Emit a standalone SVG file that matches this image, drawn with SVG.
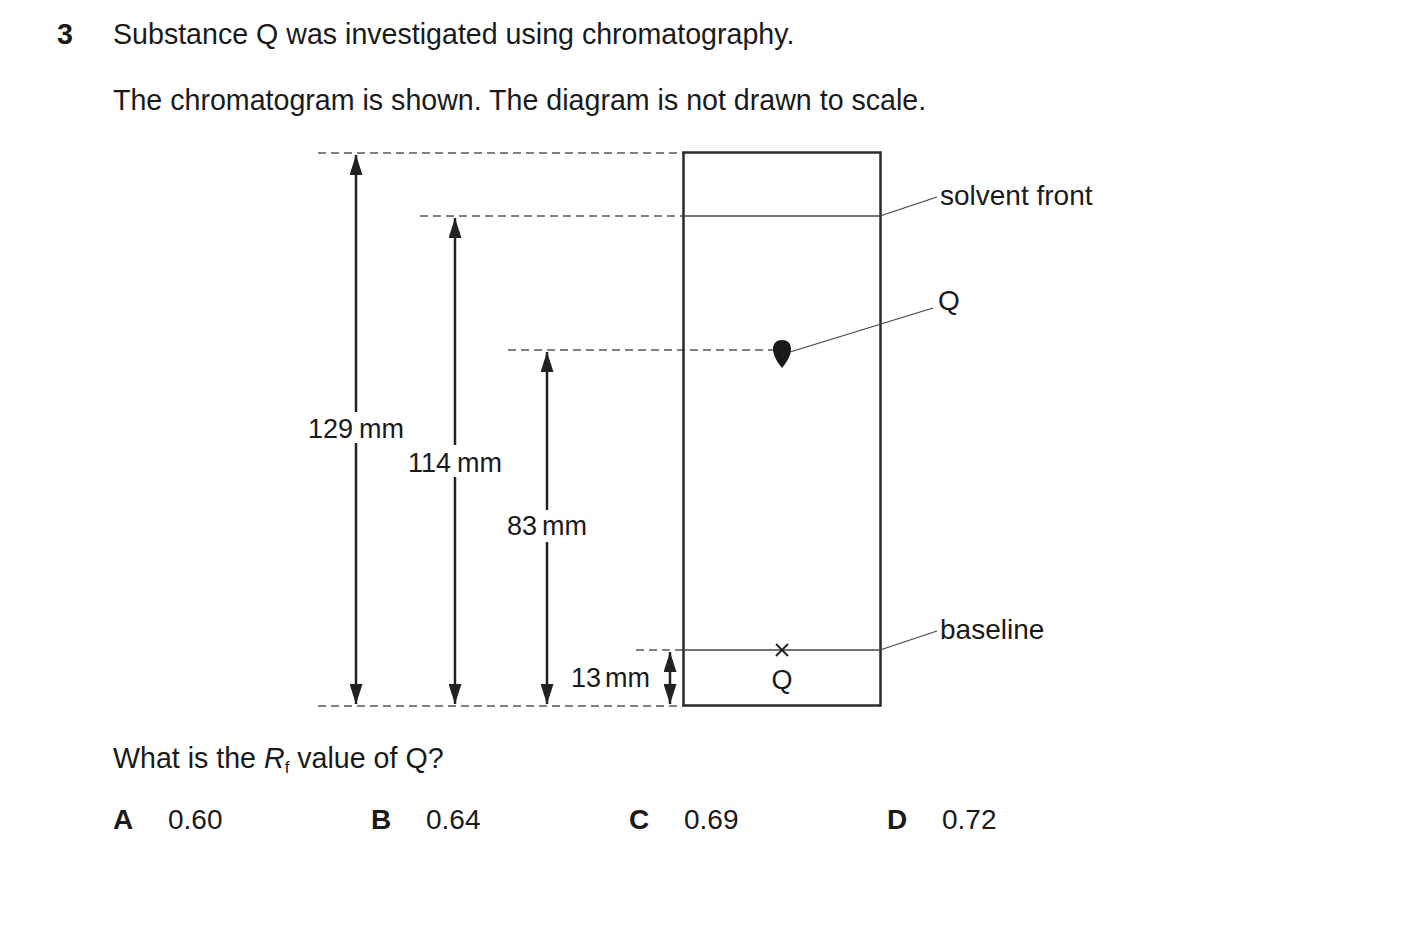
<svg xmlns="http://www.w3.org/2000/svg" width="1403" height="928" viewBox="0 0 1403 928">
<defs>
<style>
text{font-family:"Liberation Sans",Arial,sans-serif;font-size:27px;fill:#1a1a1a}
.b{font-weight:bold}
.t{font-size:28px}
.h{font-size:28.6px}
.dash{stroke:#555;stroke-width:1.5;stroke-dasharray:8 5;fill:none}
.thin{stroke:#444;stroke-width:1.3;fill:none}
.dim{stroke:#222;stroke-width:2.5;fill:none}
.ah{fill:#222}
</style>
<marker id="arr" viewBox="0 0 20 13" refX="20" refY="6.5" markerWidth="20" markerHeight="13" markerUnits="userSpaceOnUse" orient="auto-start-reverse">
<path d="M0,0 L20,6.5 L0,13 Z" class="ah"/>
</marker>
</defs>
<rect width="1403" height="928" fill="#fff"/>
<g id="question">
<text x="57" y="44" class="b h">3</text>
<text x="113" y="44" class="h">Substance Q was investigated using chromatography.</text>
<text x="113" y="110" class="h">The chromatogram is shown. The diagram is not drawn to scale.</text>
</g>
<g id="guides">
<line x1="318" y1="153" x2="683" y2="153" class="dash"/>
<line x1="420" y1="216" x2="683" y2="216" class="dash"/>
<line x1="508" y1="350" x2="775" y2="350" class="dash"/>
<line x1="636" y1="650" x2="683" y2="650" class="dash"/>
<line x1="318" y1="706" x2="683" y2="706" class="dash"/>
</g>
<g id="chromatogram">
<rect x="683.5" y="152.5" width="197" height="553" fill="none" stroke="#2a2a2a" stroke-width="2.5"/>
<line x1="683" y1="216" x2="880" y2="216" class="thin"/>
<line x1="683" y1="650" x2="880" y2="650" class="thin"/>
<path d="M782,368 C778,363 773,356 773,349 C773,343 777,340 782,340 C787,340 791,343 791,349 C791,356 786,363 782,368 Z" fill="#1a1a1a"/>
<path d="M776,644 L788,656 M788,644 L776,656" stroke="#222" stroke-width="1.8"/>
<text x="782" y="689" text-anchor="middle">Q</text>
</g>
<g id="connectors">
<line x1="356" y1="155" x2="356" y2="412" class="dim" marker-start="url(#arr)"/>
<line x1="356" y1="443" x2="356" y2="704" class="dim" marker-end="url(#arr)"/>
<line x1="455" y1="218" x2="455" y2="445" class="dim" marker-start="url(#arr)"/>
<line x1="455" y1="477" x2="455" y2="704" class="dim" marker-end="url(#arr)"/>
<line x1="547" y1="352" x2="547" y2="510" class="dim" marker-start="url(#arr)"/>
<line x1="547" y1="542" x2="547" y2="704" class="dim" marker-end="url(#arr)"/>
<line x1="670" y1="652" x2="670" y2="704" class="dim" marker-start="url(#arr)" marker-end="url(#arr)"/>
<line x1="880" y1="216" x2="937" y2="197" class="thin"/>
<line x1="790" y1="352" x2="933" y2="308" class="thin"/>
<line x1="880" y1="650" x2="937" y2="631" class="thin"/>
</g>
<g id="labels">
<text x="353" y="438" text-anchor="end">129</text><text x="359" y="438">mm</text>
<text x="451" y="472" text-anchor="end">114</text><text x="457" y="472">mm</text>
<text x="537" y="535" text-anchor="end">83</text><text x="542" y="535">mm</text>
<text x="601" y="687" text-anchor="end">13</text><text x="605" y="687">mm</text>
<text x="940" y="205" class="t">solvent front</text>
<text x="938" y="310" class="t">Q</text>
<text x="940" y="639" class="t">baseline</text>
</g>
<g id="answers">
<text x="113" y="768" class="h">What is the <tspan font-style="italic">R</tspan><tspan style="font-size:17px" dy="5">f</tspan><tspan dy="-5"> value of Q?</tspan></text>
<text x="113" y="829" class="b t">A</text><text x="168" y="829" class="t">0.60</text>
<text x="371" y="829" class="b t">B</text><text x="426" y="829" class="t">0.64</text>
<text x="629" y="829" class="b t">C</text><text x="684" y="829" class="t">0.69</text>
<text x="887" y="829" class="b t">D</text><text x="942" y="829" class="t">0.72</text>
</g>
</svg>
